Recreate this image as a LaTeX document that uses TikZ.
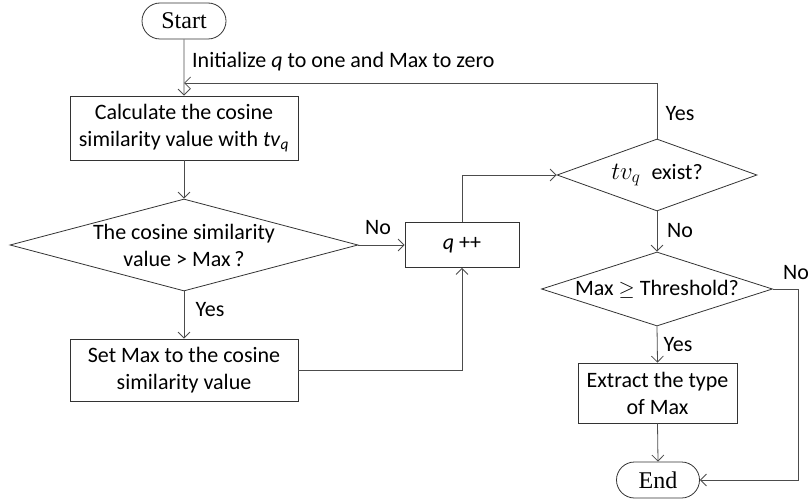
\documentclass[tikz,border=0pt]{standalone}
\usepackage{fontspec}
\setmainfont{Carlito}
\newfontfamily\termfont{Liberation Serif}
\usetikzlibrary{shapes.geometric,shapes.misc,arrows.meta}

\tikzset{
  base/.style={draw=black!80, line width=0.8pt, align=center, font=\fontsize{22}{27}\selectfont},
  procbox/.style={base, rectangle, inner sep=0pt},
  term/.style={base, rounded rectangle, font=\termfont\fontsize{24}{26}\selectfont, inner sep=0pt},
  decision/.style={base, diamond, inner sep=0pt},
  flow/.style={draw=black!70, line width=0.8pt, -{Straight Barb[length=6pt,width=12pt,line width=0.8pt]}},
  plain/.style={draw=black!70, line width=0.8pt},
  lbl/.style={font=\fontsize{22}{24}\selectfont, inner sep=0pt}
}

\begin{document}
\begin{tikzpicture}[x=1pt,y=-1pt]
\useasboundingbox (0,0) rectangle (808,500);

% terminals
\node[term, minimum width=84pt, minimum height=36pt] (start) at (184,21) {Start};
\node[term, minimum width=83pt, minimum height=36pt] (stop) at (658,480) {End};

% process boxes
\node[procbox, minimum width=228pt, minimum height=64pt] (calc) at (184,128)
  {Calculate the cosine\\similarity value with \textit{tv}\textsubscript{\textit{q}}};
\node[procbox, minimum width=228pt, minimum height=62pt] (setmax) at (184,370)
  {Set Max to the cosine\\similarity value};
\node[procbox, minimum width=114pt, minimum height=45pt] (inc) at (462,245)
  {\textit{q} ++};
\node[procbox, minimum width=159pt, minimum height=60pt] (extract) at (657.5,393)
  {Extract the type\\of Max};

% decisions
\node[decision, minimum width=348pt, minimum height=92pt, aspect=3.78] (cmp) at (184,245)
  {The cosine similarity\\value > Max\,?};
\node[decision, minimum width=200pt, minimum height=72pt, aspect=2.78] (exist) at (657,175)
  {{\fontsize{26}{28}\selectfont$tv_q$}\; exist?};
\node[decision, minimum width=231pt, minimum height=74pt, aspect=3.12] (thr) at (657,289)
  {Max $\geq$ Threshold?};

% junction points
\coordinate (join) at (184,83);
\coordinate (rightrail) at (798,289);

% text labels
\node[lbl, anchor=west] (init) at (192,62) {Initialize \textit{q} to one and Max to zero};
\node[lbl] (lno1) at (378,228) {No};
\node[lbl] (lyes1) at (210,310) {Yes};
\node[lbl] (lyes2) at (680,114) {Yes};
\node[lbl] (lno2) at (680,231) {No};
\node[lbl] (lno3) at (796,273) {No};
\node[lbl] (lyes3) at (678,345) {Yes};

% connectors
\draw[flow] (start) -- (calc);
\draw[flow] (exist.north) |- (join);
\draw[flow] (calc) -- (cmp.north);
\draw[flow] (cmp.east) -- (inc.west);
\draw[flow] (cmp.south) -- (setmax.north);
\draw[flow] (setmax.east) -| (inc.south);
\draw[flow] (inc.north) |- (exist.west);
\draw[flow] (exist.south) -- (thr.north);
\draw[flow] (thr.south) -- (extract.north);
\draw[flow] (extract.south) -- (stop.north);
\draw[plain] (thr.east) -- (rightrail);
\draw[flow] (rightrail) |- (stop.east);
\end{tikzpicture}
\end{document}
